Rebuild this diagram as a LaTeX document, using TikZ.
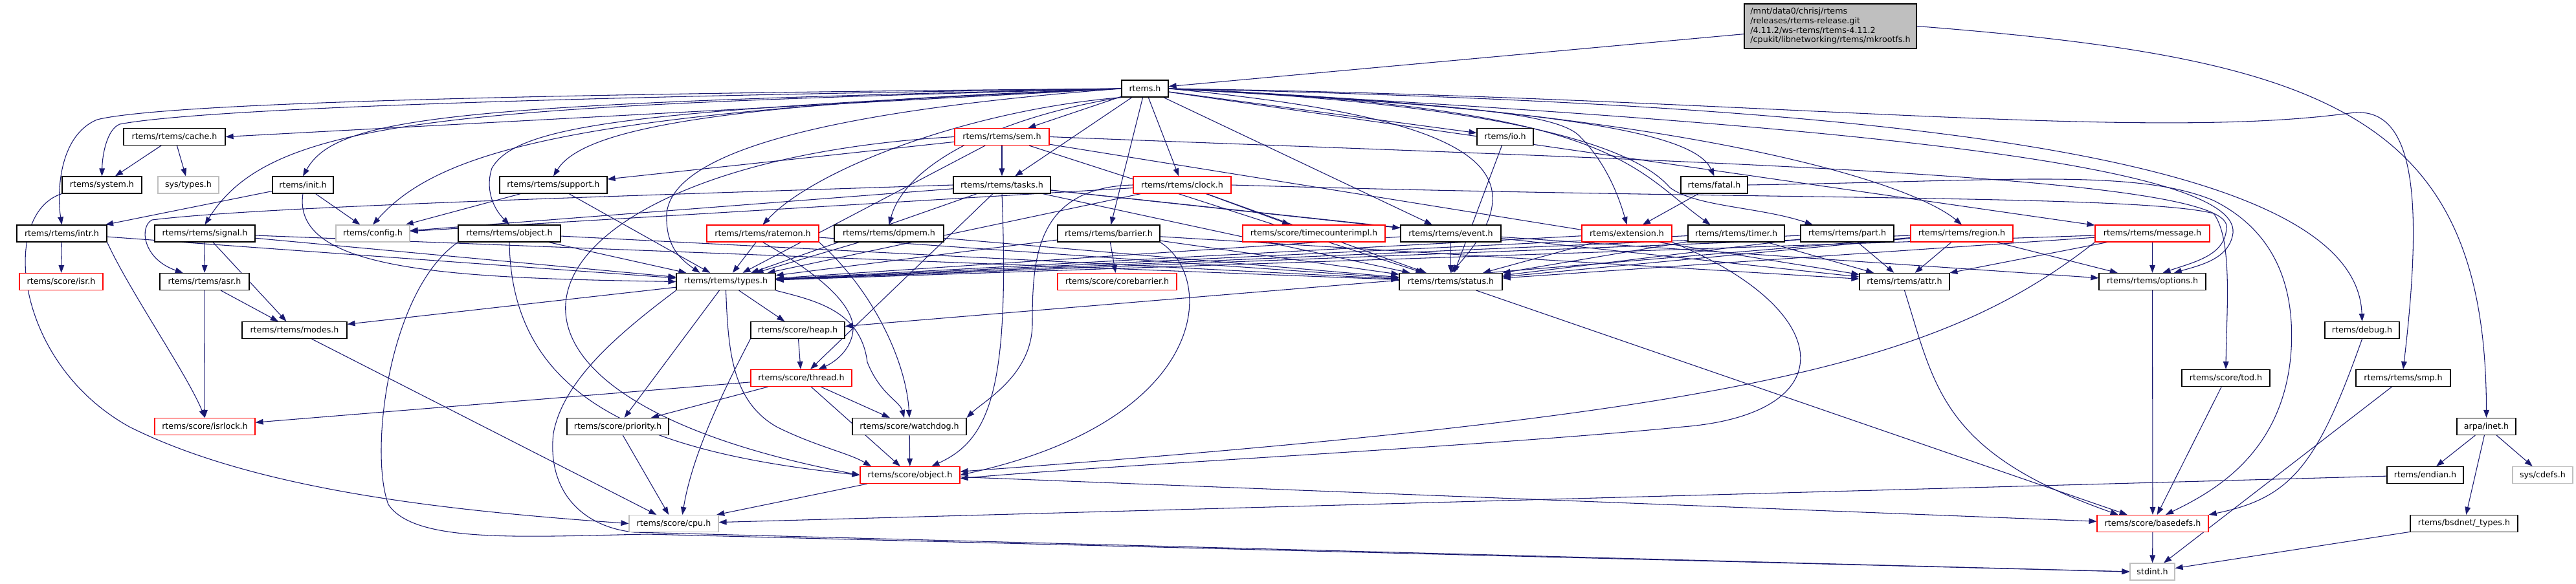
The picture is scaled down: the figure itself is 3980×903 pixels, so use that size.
\documentclass[tikz,border=0pt]{standalone}
\usepackage{fontspec}
\setmainfont{DejaVu Sans}
\usetikzlibrary{arrows.meta}
\definecolor{eb}{HTML}{191970}
\definecolor{gb}{HTML}{BFBFBF}
\newcommand{\dxfont}{\fontsize{9.5}{11}\selectfont}
\pgfdeclarelayer{bg}
\pgfsetlayers{bg,main}
\begin{document}
\begin{tikzpicture}[x=0.75pt,y=-0.75pt,
 nb/.style={draw=black,line width=0.9pt,fill=white,minimum width=#1*0.75pt,minimum height=19.5pt,inner sep=0pt,font=\dxfont},
 nr/.style={nb=#1,draw=red},
 ng/.style={nb=#1,draw=gb},
 e/.style={draw=eb,line width=0.8pt,-{Triangle[length=9pt,width=6.5pt]}}]
\useasboundingbox (0,0) rectangle (3980,903);
% row 0-1
\node[draw=black,fill=gb,line width=0.9pt,minimum width=266*0.75pt,minimum height=69*0.75pt,align=left,inner sep=0pt,font=\dxfont] (title) at (2828,40.5) {/mnt/data0/chrisj/rtems\\/releases/rtems-release.git\\/4.11.2/ws-rtems/rtems-4.11.2\\/cpukit/libnetworking/rtems/mkrootfs.h};
\node[nb=72] (rtems) at (1769,137) {rtems.h};
% row 2
\node[nb=157] (cache) at (269.5,211.5) {rtems/rtems/cache.h};
\node[nr=146] (sem) at (1548,211.5) {rtems/rtems/sem.h};
\node[nb=87] (io) at (2325.5,211.5) {rtems/io.h};
% row 3
\node[nb=123] (system) at (157.5,286) {rtems/system.h};
\node[ng=94] (systypes) at (291,286) {sys/types.h};
\node[nb=94] (init) at (468,286) {rtems/init.h};
\node[nb=166] (support) at (855,286) {rtems/rtems/support.h};
\node[nb=150] (tasks) at (1548,286) {rtems/rtems/tasks.h};
\node[nr=151] (clock) at (1826.5,286) {rtems/rtems/clock.h};
\node[nb=103] (fatal) at (2648.5,286) {rtems/fatal.h};
% row 4
\node[nb=139] (intr) at (95.5,361) {rtems/rtems/intr.h};
\node[nb=155] (signal) at (316.5,361) {rtems/rtems/signal.h};
\node[ng=114] (config) at (576,361) {rtems/config.h};
\node[nb=158] (robject) at (787,361) {rtems/rtems/object.h};
\node[nr=173] (ratemon) at (1178.5,361) {rtems/rtems/ratemon.h};
\node[nb=169] (dpmem) at (1373.5,361) {rtems/rtems/dpmem.h};
\node[nb=158] (barrier) at (1713,361) {rtems/rtems/barrier.h};
\node[nr=220] (tci) at (2030,361) {rtems/score/timecounterimpl.h};
\node[nb=155] (event) at (2241.5,361) {rtems/rtems/event.h};
\node[nr=139] (extension) at (2513.5,361) {rtems/extension.h};
\node[nb=149] (timer) at (2682.5,361) {rtems/rtems/timer.h};
\node[nb=144] (part) at (2854,361) {rtems/rtems/part.h};
\node[nr=158] (region) at (3031,361) {rtems/rtems/region.h};
\node[nr=177] (message) at (3325.5,361) {rtems/rtems/message.h};
% row 5
\node[nr=129] (isr) at (94.5,435.5) {rtems/score/isr.h};
\node[nb=138] (asr) at (316,435.5) {rtems/rtems/asr.h};
\node[nb=153] (types) at (1121.5,435.5) {rtems/rtems/types.h};
\node[nr=184] (corebarrier) at (1726,435.5) {rtems/score/corebarrier.h};
\node[nb=159] (status) at (2241.5,435.5) {rtems/rtems/status.h};
\node[nb=139] (attr) at (2942.5,435.5) {rtems/rtems/attr.h};
\node[nb=165] (options) at (3325.5,435.5) {rtems/rtems/options.h};
% row 6
\node[nb=162] (modes) at (455,510.5) {rtems/rtems/modes.h};
\node[nb=145] (heap) at (1232.5,510.5) {rtems/score/heap.h};
\node[nb=115] (debug) at (3649.5,510.5) {rtems/debug.h};
% row 7
\node[nr=156] (thread) at (1238,584.5) {rtems/score/thread.h};
\node[nb=136] (tod) at (3439,584.5) {rtems/score/tod.h};
\node[nb=146] (smp) at (3713,584.5) {rtems/rtems/smp.h};
% row 8
\node[nr=155] (isrlock) at (316.5,659.5) {rtems/score/isrlock.h};
\node[nb=157] (priority) at (954.5,659.5) {rtems/score/priority.h};
\node[nb=176] (watchdog) at (1405,659.5) {rtems/score/watchdog.h};
\node[nb=91] (inet) at (3841.5,659.5) {arpa/inet.h};
% row 9
\node[nr=154] (sobject) at (1406,734.5) {rtems/score/object.h};
\node[nb=118] (endian) at (3747,734.5) {rtems/endian.h};
\node[ng=93] (cdefs) at (3928.5,734.5) {sys/cdefs.h};
% row 10
\node[ng=138] (cpu) at (1041,809.5) {rtems/score/cpu.h};
\node[nr=172] (basedefs) at (3326,809.5) {rtems/score/basedefs.h};
\node[nb=166] (bsdtypes) at (3807,809.5) {rtems/bsdnet/\_types.h};
% row 11
\node[ng=69] (stdint) at (3325.5,884) {stdint.h};

\begin{pgfonlayer}{bg}
\draw[e] (title) -- (rtems);
\draw[e] (title.east) .. controls (3600,90) and (3841,180) .. (inet.north);
% rtems.h fan-out (left)
\draw[e] (rtems.west) -- (cache.east);
\draw[e] (rtems.west) .. controls (800,145) and (250,160) .. (150,185) .. controls (90,210) and (88,300) .. (intr.north);
\draw[e] (rtems.west) .. controls (800,150) and (300,170) .. (185,192) .. controls (165,200) and (158,240) .. (system.north);
\draw[e] (rtems.west) .. controls (700,160) and (520,180) .. (init.north);
\draw[e] (rtems.west) .. controls (700,165) and (420,180) .. (signal.north);
\draw[e] (rtems.west) .. controls (900,170) and (680,230) .. (config.north);
\draw[e] (rtems.west) .. controls (1000,170) and (800,190) .. (760,260) .. controls (750,290) and (760,320) .. (robject.north);
\draw[e] (rtems.west) .. controls (1100,160) and (900,200) .. (support.north);
\draw[e] (rtems.west) .. controls (1300,170) and (1040,230) .. (1030,330) .. controls (1028,380) and (1050,400) .. ([xshift=-30pt]types.north);
\draw[e] (rtems.south west) .. controls (1500,170) and (1260,260) .. (ratemon.north);
\draw[e] (rtems.south west) .. controls (1550,180) and (1400,250) .. (dpmem.north);
\foreach \t in {sem,tasks,clock,barrier,event,io,message} {\draw[e] (rtems) -- (\t);}
% rtems.h fan-out (right)
\draw[e] (rtems.east) .. controls (2250,180) and (2400,250) .. (status.north);
\draw[e] (rtems.east) .. controls (2200,160) and (2400,170) .. (2440,210) .. controls (2480,250) and (2500,300) .. (extension.north);
\draw[e] (rtems.east) .. controls (2450,170) and (2620,210) .. (fatal.north);
\draw[e] (rtems.east) .. controls (2500,165) and (2520,260) .. ([xshift=-30pt]timer.north);
\draw[e] (rtems.east) .. controls (2300,160) and (2520,220) .. (2580,290) .. controls (2620,320) and (2720,320) .. ([xshift=-40pt]part.north);
\draw[e] (rtems.east) .. controls (2600,170) and (2950,280) .. (region.north);
\draw[e] (rtems.east) .. controls (2800,190) and (3460,250) .. (3450,360) .. controls (3445,400) and (3400,410) .. ([xshift=25pt]options.north);
\draw[e] (rtems.east) .. controls (2800,160) and (3640,220) .. (debug.north);
\draw[e] (rtems.east) .. controls (2700,150) and (3300,220) .. (3630,175) .. controls (3730,160) and (3745,300) .. (smp.north);
% others
\draw[e] (cache) -- (system);
\draw[e] (cache) -- (systypes);
\draw[e] (system.south west) .. controls (0,330) and (20,560) .. (200,660) .. controls (400,760) and (700,790) .. (cpu.west);
\draw[e] (init) -- (intr);
\draw[e] (init) -- (config);
\draw[e] (init.south) .. controls (450,420) and (700,430) .. (types.west);
\draw[e] (support) -- (config);
\draw[e] (support) -- (types);
\foreach \t in {support,tasks,types,status,attr} {\draw[e] (sem) -- (\t);}
\draw[e] (sem.east) .. controls (2600,250) and (3440,270) .. (3440,350) .. controls (3440,395) and (3390,405) .. ([xshift=12pt]options.north);
\draw[e] (sem.west) .. controls (800,250) and (620,600) .. (sobject.west);
\foreach \t in {config,types,status,attr,event,thread} {\draw[e] (tasks) -- (\t);}
\draw[e] (tasks.west) .. controls (900,305) and (400,320) .. (235,340) .. controls (215,350) and (220,400) .. ([xshift=-25pt]asr.north);
\draw[e] (tasks.south) .. controls (1560,600) and (1530,680) .. ([xshift=25pt]sobject.north);
\foreach \t in {config,types,status,tci} {\draw[e] (clock) -- (\t);}
\draw[e] (clock.west) .. controls (1600,290) and (1595,400) .. (1595,500) .. controls (1595,580) and (1520,620) .. (watchdog.north east);
\draw[e] (clock.east) .. controls (2700,310) and (3300,300) .. (3420,330) .. controls (3450,370) and (3440,480) .. (tod.north);
\draw[e] (fatal) -- (extension);
\draw[e] (fatal.east) .. controls (3100,280) and (3300,260) .. (3420,310) .. controls (3520,360) and (3545,450) .. (3540,540) .. controls (3530,700) and (3420,760) .. ([xshift=15pt]basedefs.north);
\draw[e] (io) -- (status);
\draw[e] (intr) -- (isr);
\draw[e] (intr) -- (types);
\draw[e] (intr.south east) .. controls (200,450) and (290,580) .. (isrlock.north);
\foreach \t in {asr,modes,types,status} {\draw[e] (signal) -- (\t);}
\draw[e] (robject) -- (types);
\draw[e] (robject) -- (status);
\draw[e] (robject.south) .. controls (790,620) and (1000,700) .. (sobject.west);
\draw[e] (robject.south west) .. controls (600,450) and (570,700) .. (600,780) .. controls (640,840) and (800,830) .. (1000,826) -- (stdint.west);
\draw[e] (ratemon) -- (types);
\draw[e] (ratemon) -- (status);
\draw[e] (ratemon.south) .. controls (1260,420) and (1320,470) .. (1318,510) .. controls (1316,540) and (1290,560) .. ([xshift=20pt]thread.north);
\draw[e] (ratemon.south east) .. controls (1350,450) and (1400,560) .. (watchdog.north);
\draw[e] (dpmem) -- (types);
\draw[e] (dpmem) -- (status);
\foreach \t in {types,status,attr,corebarrier} {\draw[e] (barrier) -- (\t);}
\draw[e] (barrier.south east) .. controls (1880,430) and (1870,650) .. (sobject.east);
\foreach \t in {types,status,options} {\draw[e] (event) -- (\t);}
\draw[e] (extension) -- (types);
\draw[e] (extension) -- (status);
\draw[e] (extension.south east) .. controls (2840,480) and (2850,640) .. (2600,660) .. controls (2300,690) and (1700,720) .. ([yshift=-4pt]sobject.east);
\foreach \s in {timer,part} {\draw[e] (\s) -- (types); \draw[e] (\s) -- (status); \draw[e] (\s) -- (attr);}
\foreach \t in {types,status,attr,options,heap} {\draw[e] (region) -- (\t);}
\foreach \t in {types,status,attr,options} {\draw[e] (message) -- (\t);}
\draw[e] (message.south west) .. controls (3000,560) and (2700,640) .. ([yshift=4pt]sobject.east);
\draw[e] (asr) -- (isrlock);
\draw[e] (asr) -- (modes);
\foreach \t in {modes,heap,priority} {\draw[e] (types) -- (\t);}
\draw[e] (types.south east) .. controls (1260,465) and (1330,480) .. (1340,560) .. controls (1360,610) and (1390,620) .. ([xshift=-6pt]watchdog.north);
\draw[e] (types.south) .. controls (1125,540) and (1130,620) .. (1200,660) .. controls (1260,690) and (1310,700) .. ([xshift=-45pt]sobject.north);
\draw[e] (types.south west) .. controls (950,520) and (870,590) .. (855,670) .. controls (845,760) and (900,815) .. (980,823) -- (stdint.west);
\draw[e] (modes) -- (cpu);
\draw[e] (heap) -- (thread);
\draw[e] (heap.south west) .. controls (1120,600) and (1070,700) .. ([xshift=10pt]cpu.north);
\foreach \t in {isrlock,priority,watchdog,sobject} {\draw[e] (thread) -- (\t);}
\draw[e] (priority) -- (cpu);
\draw[e] (watchdog) -- (sobject);
\draw[e] (sobject) -- (cpu);
\draw[e] (sobject) -- (basedefs);
\draw[e] (status) -- (basedefs);
\draw[e] (attr.south) .. controls (2990,600) and (3000,700) .. ([xshift=-40pt]basedefs.north);
\draw[e] (options) -- (basedefs);
\draw[e] (tod) -- (basedefs);
\draw[e] (debug.south) .. controls (3580,720) and (3540,770) .. (basedefs.north east);
\draw[e] (smp) -- (stdint);
\draw[e] (basedefs) -- (stdint);
\foreach \t in {endian,cdefs,bsdtypes} {\draw[e] (inet) -- (\t);}
\draw[e] (endian) -- (cpu);
\draw[e] (bsdtypes) -- (stdint);
\end{pgfonlayer}
\end{tikzpicture}
\end{document}
